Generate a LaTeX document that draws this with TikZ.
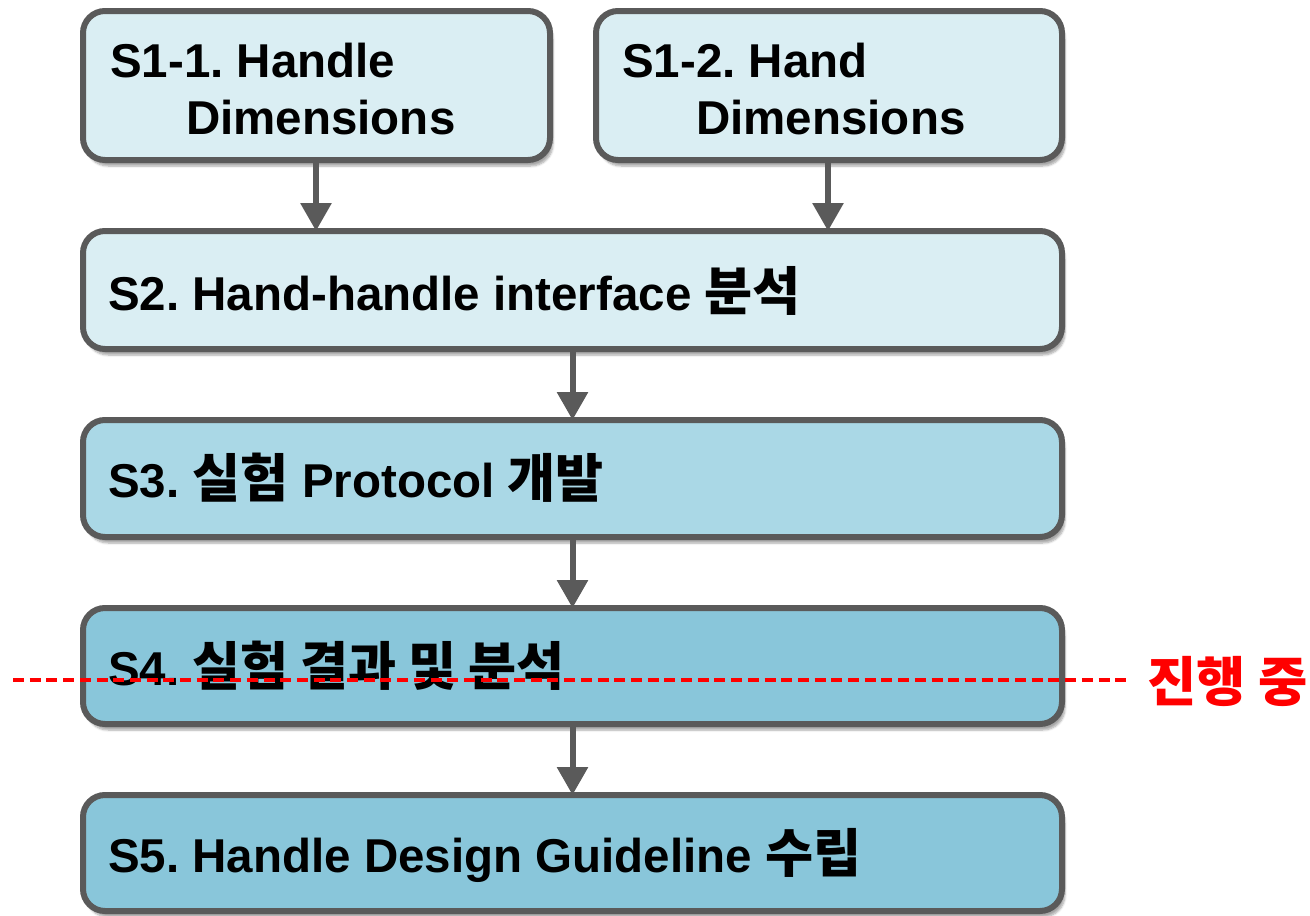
\documentclass[tikz,border=0pt]{standalone}
\usepackage{fontspec}
\setmainfont{Liberation Sans}
\newfontfamily\kr{Noto Sans CJK KR}[Scale=1.1]
\usetikzlibrary{arrows.meta,shadows.blur}
\definecolor{bord}{HTML}{5A5A5A}
\definecolor{fillA}{HTML}{DAEEF3}
\definecolor{fillB}{HTML}{AAD8E6}
\definecolor{fillC}{HTML}{89C6DA}
\definecolor{redline}{HTML}{FF0000}
\tikzset{
  box/.style={draw=bord, line width=6pt, rounded corners=22pt, anchor=north west,
    inner sep=0pt, outer sep=0pt,
    blur shadow={shadow xshift=3pt, shadow yshift=-6pt, shadow blur steps=6, shadow opacity=35}},
  lbl/.style={anchor=base west, inner sep=0pt, font=\fontsize{47.5}{57}\selectfont\bfseries},
  arr/.style={draw=bord, line width=6pt, -{Triangle[width=30pt,length=28pt]}},
}
\begin{document}
\frenchspacing
\begin{tikzpicture}[x=1pt,y=-1pt]
\useasboundingbox (0,0) rectangle (1310,916);
% boxes
\node[box, fill=fillA, minimum width=467pt, minimum height=149pt] (b11) at (83,11) {};
\node[box, fill=fillA, minimum width=466pt, minimum height=149pt] (b12) at (596,11) {};
\node[box, fill=fillA, minimum width=979pt, minimum height=118pt] (b2) at (83,231) {};
\node[box, fill=fillB, minimum width=979pt, minimum height=117pt] (b3) at (83,420) {};
\node[box, fill=fillC, minimum width=979pt, minimum height=116pt] (b4) at (83,608) {};
\node[box, fill=fillC, minimum width=979pt, minimum height=116pt] (b5) at (83,795) {};
% labels
\node[lbl] (t11a) at (110,77) {S1-1. Handle};
\node[lbl] (t11b) at (186,134) {Dimensions};
\node[lbl] (t12a) at (622,77) {S1-2. Hand};
\node[lbl] (t12b) at (696,134) {Dimensions};
\node[lbl] (t2) at (108,310) {S2. Hand-handle interface {\kr 분석}};
\node[lbl] (t3) at (108,497) {S3. {\kr 실험} Protocol {\kr 개발}};
\node[lbl] (t4) at (108,685) {S4. {\kr 실험 결과 및 분석}};
\node[lbl] (t5) at (108,872) {S5. Handle Design Guideline {\kr 수립}};
% arrows
\draw[arr] (b11.south -| 316,0) -- (b2.north -| 316,0);
\draw[arr] (b12.south -| 828,0) -- (b2.north -| 828,0);
\draw[arr] (b2.south) -- (b3.north);
\draw[arr] (b3.south) -- (b4.north);
\draw[arr] (b4.south) -- (b5.north);
% progress line
\coordinate (dl) at (13,680);
\coordinate (dr) at (1127,680);
\draw[redline, line width=3.5pt, dash pattern=on 11pt off 5.7pt] (dl) -- (dr);
\node[anchor=west, inner sep=0pt, text=redline, font=\fontsize{48.7}{57}\selectfont\bfseries\kr] (prog) at (1147,681) {진행 중};
\end{tikzpicture}
\end{document}
